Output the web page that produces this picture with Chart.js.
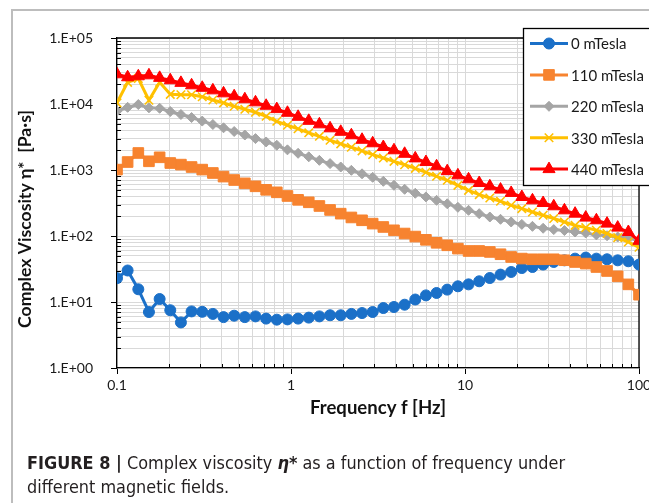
<!DOCTYPE html>
<html>
<head>
<meta charset="utf-8">
<script src="https://cdn.jsdelivr.net/npm/chart.js@4.4.1/dist/chart.umd.min.js"></script>
<style>
  html, body { margin: 0; padding: 0; background: #fff; overflow: hidden; }
  #wrap { position: relative; width: 649px; height: 503px; }
  #chart { display: block; }
  #frame { position: absolute; left: 11px; top: 9px; width: 700px; height: 600px;
           border-left: 2px solid #bdbdbd; border-top: 2px solid #bdbdbd; pointer-events: none; }
  #caption { position: absolute; left: 27px; top: 451px; color: #231f20;
             font-family: "Liberation Sans Narrow", "DejaVu Sans Condensed", "Liberation Sans", sans-serif;
             font-size: 18px; line-height: 24px; white-space: nowrap; transform-origin: 0 0; }
</style>
</head>
<body>
<div id="wrap">
  <canvas id="chart" width="649" height="503"></canvas>
  <div id="frame"></div>
  <div id="caption"><span id="capLine1"><b>FIGURE 8 |</b> Complex viscosity <b><i>η*</i></b> as a function of frequency under</span><br>different magnetic fields.</div>
</div>
<script>
// frequency sweep, 50 points from 0.1 to 100 Hz
const freqHz = [0.1, 0.1151, 0.1326, 0.1526, 0.1758, 0.2024, 0.2330, 0.2683, 0.3089, 0.3556,
  0.4095, 0.4715, 0.5429, 0.6251, 0.7197, 0.8286, 0.9541, 1.0985, 1.265, 1.456,
  1.677, 1.931, 2.223, 2.560, 2.947, 3.393, 3.907, 4.498, 5.179, 5.964,
  6.866, 7.906, 9.103, 10.48, 12.07, 13.89, 16.00, 18.42, 21.21, 24.42,
  28.12, 32.37, 37.28, 42.92, 49.42, 56.90, 65.51, 75.43, 86.85, 100];

// complex viscosity [Pa.s] per field
const visc0 = [23, 30, 15.6, 7.05, 11.1, 7.5, 4.9, 7.2, 7.1, 6.6,
  5.9, 6.2, 5.9, 6.05, 5.6, 5.4, 5.45, 5.6, 5.8, 6.05,
  6.3, 6.3, 6.6, 6.8, 7.05, 8.1, 8.4, 9.1, 10.9, 12.6,
  13.7, 15.4, 17.3, 18.5, 20.6, 23.1, 26, 28.5, 32.7, 33.9,
  36.9, 40.4, 42.8, 45.4, 47.1, 45.4, 44.4, 42.8, 41.4, 36.9];
const visc110 = [1014, 1321, 1810, 1355, 1557, 1276, 1207, 1110, 1014, 901,
  794, 705, 628, 566, 501, 459, 404, 353, 324, 285,
  248, 218, 191, 173, 154, 137, 122, 109, 98, 87.5,
  78.9, 72.3, 64.4, 59.3, 59.3, 57.3, 52.9, 48.1, 45.5, 44.4,
  44.4, 44.4, 42.9, 40.4, 38.2, 33.9, 29.5, 24.5, 18.5, 12.9];
const visc220 = [7800, 8910, 9820, 8750, 8610, 7690, 6930, 6240, 5510, 4890,
  4360, 3830, 3390, 2990, 2660, 2370, 2020, 1790, 1585, 1400,
  1250, 1110, 989, 875, 775, 674, 586, 510, 444, 391,
  347, 308, 272, 245, 218, 194, 179, 163, 150, 140,
  131, 125, 121, 115, 111, 104, 101, 96.6, 93, 84.5];
const visc330 = [10400, 21300, 24300, 11400, 21300, 14000, 13800, 13800, 12900, 11500,
  10400, 9230, 8310, 7490, 6510, 5470, 4760, 4210, 3660, 3240,
  2820, 2490, 2210, 1950, 1710, 1520, 1350, 1200, 1060, 923,
  803, 698, 586, 492, 424, 377, 336, 292, 260, 231,
  206, 184, 163, 145, 134, 122, 109, 94.6, 81.1, 67.4];
const visc440 = [28200, 25400, 26300, 27200, 24900, 22900, 20900, 19200, 17600, 16100,
  14500, 13100, 11800, 10600, 9400, 8370, 7360, 6400, 5560, 4920,
  4280, 3790, 3360, 2870, 2540, 2230, 1990, 1760, 1500, 1320,
  1140, 960, 830, 722, 635, 566, 505, 449, 390, 347,
  316, 282, 245, 218, 190, 173, 154, 134, 115, 84.5];

const seriesNames = ["0 mTesla", "110 mTesla", "220 mTesla", "330 mTesla", "440 mTesla"];

const xTickValues = [0.1, 1, 10, 100];
const xTickLabels = ["0.1", "1", "10", "100"];
const yTickValues = [1, 10, 100, 1000, 10000, 100000];
const yTickLabels = ["1.E+00", "1.E+01", "1.E+02", "1.E+03", "1.E+04", "1.E+05"];

const xTitle = "Frequency f [Hz]";
const yTitle = "Complex Viscosity η*  [Pa·s]";

const FONT = "Lato, 'Open Sans', sans-serif";

// caption squeezed to the width of the original
const capLine1 = document.getElementById("capLine1");
const caption = document.getElementById("caption");
caption.style.transform = `scaleX(${538 / capLine1.getBoundingClientRect().width})`;

function logTicks(majors) {
  const ticks = [];
  majors.forEach((m, i) => {
    ticks.push({ value: m, major: true });
    if (i < majors.length - 1) {
      for (let k = 2; k <= 9; k++) ticks.push({ value: +(m * k).toPrecision(6), major: false });
    }
  });
  return ticks;
}

function toPoints(values) {
  return values.map((v, i) => ({ x: freqHz[i], y: v }));
}

const styles = [
  { color: "#1b70c8", pointStyle: "circle", radius: 5.5, pbw: 1 },
  { color: "#f7832f", pointStyle: "rect", radius: 7.5, pbw: 1 },
  { color: "#a5a5a5", pointStyle: "rectRot", radius: 5, pbw: 1 },
  { color: "#ffc000", pointStyle: "crossRot", radius: 6, pbw: 1.6 },
  { color: "#ff0000", pointStyle: "triangle", radius: 7, pbw: 1 },
];
const allSeries = [visc0, visc110, visc220, visc330, visc440];

const datasets = allSeries.map((vals, i) => ({
  label: seriesNames[i],
  data: toPoints(vals),
  borderColor: styles[i].color,
  backgroundColor: styles[i].color,
  borderWidth: 3,
  pointStyle: styles[i].pointStyle,
  pointRadius: styles[i].radius,
  pointBorderWidth: styles[i].pbw,
  pointBackgroundColor: styles[i].color,
  pointBorderColor: styles[i].color,
  order: 5 - i,
  tension: 0,
}));

function axisOpts(majors, labels) {
  return {
    type: "logarithmic",
    min: majors[0],
    max: majors[majors.length - 1],
    afterBuildTicks: (scale) => { scale.ticks = logTicks(majors); },
    grid: {
      color: "#d9d9d9",
      lineWidth: 1,
      tickLength: 6,
      tickColor: (c) => (c.tick && c.tick.major ? "#000" : "rgba(0,0,0,0)"),
    },
    border: { display: true, color: "#000", width: 1.3 },
    ticks: {
      autoSkip: false,
      maxRotation: 0,
      minRotation: 0,
      color: "#1a1a1a",
      font: { family: FONT, size: 14 },
      callback: (value) => {
        const i = majors.indexOf(value);
        return i >= 0 ? labels[i] : "";
      },
    },
  };
}

const xOpts = axisOpts(xTickValues, xTickLabels);
xOpts.ticks.padding = 3;
xOpts.afterFit = (s) => { s.height = 40; s.paddingLeft = 0; s.paddingRight = 0; };
const yOpts = axisOpts(yTickValues, yTickLabels);
yOpts.ticks.padding = 18;
yOpts.afterFit = (s) => { s.width = 117; s.paddingTop = 0; s.paddingBottom = 0; };

// bold title sized so it spans a given length
function fitFont(ctx, text, length) {
  ctx.font = `bold 16px ${FONT}`;
  const size = 16 * length / ctx.measureText(text).width;
  return `bold ${size.toFixed(2)}px ${FONT}`;
}

const decorPlugin = {
  id: "decor",
  beforeDatasetsDraw(chart) {
    const { ctx, chartArea: a, scales } = chart;
    ctx.save();
    ctx.strokeStyle = "#000";
    ctx.lineWidth = 1;
    // small inward minor ticks
    scales.y.ticks.forEach((t) => {
      if (t.major) return;
      const y = Math.round(scales.y.getPixelForValue(t.value)) + 0.5;
      ctx.beginPath(); ctx.moveTo(a.left, y); ctx.lineTo(a.left + 4, y); ctx.stroke();
    });
    scales.x.ticks.forEach((t) => {
      if (t.major) return;
      const x = Math.round(scales.x.getPixelForValue(t.value)) + 0.5;
      ctx.beginPath(); ctx.moveTo(x, a.bottom); ctx.lineTo(x, a.bottom - 4); ctx.stroke();
    });
    // plot box top and right
    ctx.lineWidth = 1.3;
    ctx.beginPath();
    ctx.moveTo(a.left, a.top); ctx.lineTo(a.right, a.top); ctx.lineTo(a.right, a.bottom);
    ctx.stroke();
    ctx.restore();
  },
  afterDraw(chart) {
    const { ctx, chartArea: a } = chart;
    ctx.save();
    // axis titles
    ctx.fillStyle = "#111";
    ctx.textAlign = "center";
    ctx.textBaseline = "middle";
    ctx.font = fitFont(ctx, xTitle, 136);
    ctx.fillText(xTitle, (a.left + a.right) / 2, a.bottom + 40);
    ctx.save();
    ctx.font = fitFont(ctx, yTitle, 218);
    ctx.translate(25, 219);
    ctx.rotate(-Math.PI / 2);
    ctx.fillText(yTitle, 0, 0);
    ctx.restore();

    // legend box
    const lx = 523, ly = 28, lw = 140, lh = 157;
    ctx.fillStyle = "#fff";
    ctx.fillRect(lx, ly, lw, lh);
    ctx.strokeStyle = "#000";
    ctx.lineWidth = 1.3;
    ctx.strokeRect(lx + 0.5, ly + 0.5, lw, lh);
    chart.data.datasets.forEach((ds, i) => {
      const y = 43.5 + i * 31.4;
      ctx.strokeStyle = ds.borderColor;
      ctx.lineWidth = 3;
      ctx.beginPath(); ctx.moveTo(530, y); ctx.lineTo(568, y); ctx.stroke();
      ctx.fillStyle = ds.pointBackgroundColor;
      ctx.strokeStyle = ds.pointBorderColor;
      ctx.lineWidth = ds.pointBorderWidth;
      Chart.helpers.drawPoint(ctx, {
        pointStyle: ds.pointStyle, rotation: 0,
        radius: ds.pointRadius, borderWidth: ds.pointBorderWidth,
      }, 549, y);
      ctx.fillStyle = "#1a1a1a";
      ctx.font = `15px ${FONT}`;
      ctx.textAlign = "left";
      ctx.fillText(ds.label, 571, y + 1);
    });
    ctx.restore();
  },
};

new Chart(document.getElementById("chart").getContext("2d"), {
  type: "line",
  data: { datasets },
  options: {
    responsive: false,
    animation: false,
    layout: { padding: { left: 0, top: 38, right: 10, bottom: 95 } },
    plugins: { legend: { display: false }, tooltip: { enabled: false } },
    scales: { x: xOpts, y: yOpts },
  },
  plugins: [decorPlugin],
});
</script>
</body>
</html>
